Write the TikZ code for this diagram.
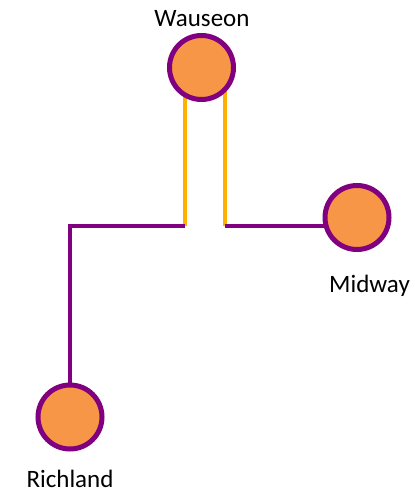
\documentclass[tikz,border=0pt]{standalone}
\usepackage{fontspec}
\setmainfont{Carlito}
\usetikzlibrary{backgrounds}
\definecolor{stopfill}{HTML}{F79646}
\definecolor{linepurple}{HTML}{800080}
\definecolor{linegold}{HTML}{FFB000}
\tikzset{
  station/.style={circle, draw=linepurple, fill=stopfill, line width=5pt, minimum size=64pt, inner sep=0pt},
  stlabel/.style={anchor=base, inner sep=0pt, font=\fontsize{25}{30}\selectfont},
  purpleline/.style={draw=linepurple, line width=4pt},
  goldline/.style={draw=linegold, line width=4pt}
}
\begin{document}
\begin{tikzpicture}[x=1pt, y=-1pt]
\useasboundingbox (0,0) rectangle (416,490);
\node[station] (w) at (201.5,67.5) {};
\node[station] (m) at (357,217.5) {};
\node[station] (r) at (70,417) {};
\node[stlabel] (wl) at (202,26) {Wauseon};
\node[stlabel] (ml) at (369.5,292) {Midway};
\node[stlabel] (rl) at (70,487) {Richland};
\coordinate (jl) at (185,226);
\coordinate (jr) at (224.5,226);
\coordinate (cr) at (70,226);
\begin{scope}[on background layer]
\draw[goldline] (jl |- w.center) -- (jl);
\draw[goldline] (jr |- w.center) -- (jr);
\draw[purpleline] (jl) -- (cr) -- (r.center);
\draw[purpleline] (jr) -- (jr -| m.center);
\end{scope}
\end{tikzpicture}
\end{document}
